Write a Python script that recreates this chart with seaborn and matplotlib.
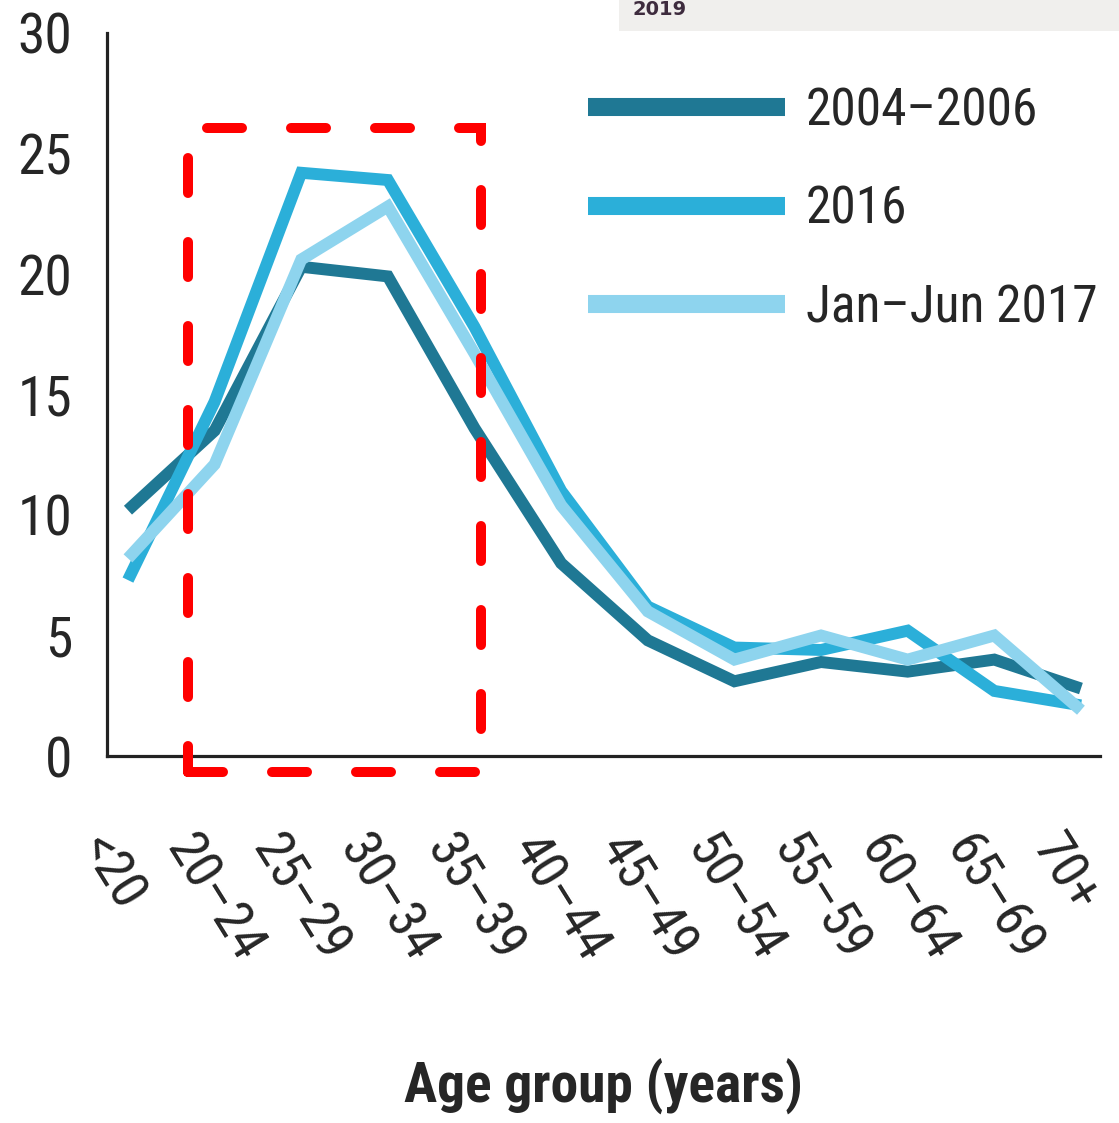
import numpy as np
import pandas as pd
import matplotlib
matplotlib.use("Agg")
import matplotlib.pyplot as plt
from matplotlib import font_manager
from matplotlib import transforms as mtransforms
from matplotlib.lines import Line2D
from matplotlib.patches import Rectangle
import seaborn as sns

# ---------------- data ----------------
age_groups = ["<20", "20–24", "25–29", "30–34", "35–39", "40–44",
              "45–49", "50–54", "55–59", "60–64", "65–69", "70+"]
series_names = ["2004–2006", "2016", "Jan–Jun 2017"]
vals_2004_2006 = [10.2, 13.5, 20.3, 19.9, 13.6, 8.0, 4.8, 3.1, 3.9, 3.5, 4.0, 2.8]
vals_2016 = [7.3, 14.7, 24.2, 23.9, 17.8, 11.0, 6.2, 4.5, 4.4, 5.2, 2.7, 2.1]
vals_2017 = [8.2, 12.1, 20.6, 22.8, 16.7, 10.4, 6.0, 4.0, 5.0, 4.0, 5.0, 1.9]
y_ticks = [0, 5, 10, 15, 20, 25, 30]
x_label = "Age group (years)"
corner_text = "2019"
# highlighted region (category index range, value range)
highlight_x = (0.69, 4.08)
highlight_y = (-0.66, 26.05)

colors = ["#1f7894", "#2bafd9", "#8ed4ee"]

# ---------------- fonts: prefer a narrow / condensed sans ----------------
sns.set_style("white")
ttf = font_manager.fontManager.ttflist


def is_cond(f):
    s = f.stretch
    if isinstance(s, str):
        return s in ("condensed", "semi-condensed", "extra-condensed", "ultra-condensed")
    return s < 500


family = None
stretch = "normal"
pref = ["Liberation Sans Narrow", "Roboto Condensed", "Open Sans Condensed",
        "Noto Sans Condensed", "Arial Narrow", "DejaVu Sans Condensed"]
names = {f.name for f in ttf}
for p in pref:
    if p in names:
        family = p
        break
if family is None:
    for base in ["Liberation Sans", "Roboto", "Noto Sans", "Open Sans", "DejaVu Sans"]:
        if any(f.name == base and is_cond(f) for f in ttf):
            family = base
            stretch = "condensed"
            break
condensed = family is not None
if family is None:
    family = "Liberation Sans"

plt.rcParams["font.family"] = [family, "DejaVu Sans"]
plt.rcParams["font.stretch"] = stretch

fs_tick = 40 if condensed else 34
fs_xtick = 39 if condensed else 33
fs_leg = 37 if condensed else 32
fs_lab = 40 if condensed else 34

df = pd.DataFrame({
    "age": age_groups * 3,
    "value": vals_2004_2006 + vals_2016 + vals_2017,
    "period": sum([[n] * len(age_groups) for n in series_names], []),
})

fig = plt.figure(figsize=(11.19, 11.23), dpi=100)
ax = fig.add_axes([107 / 1119, 1 - 756 / 1123, (1100 - 107) / 1119, (756 - 33) / 1123])

sns.lineplot(data=df, x="age", y="value", hue="period", hue_order=series_names,
             palette=colors, sort=False, linewidth=8.6, ax=ax, legend=False)
for ln in ax.lines:
    ln.set_solid_joinstyle("miter")
    ln.set_solid_capstyle("butt")

ax.set_xlim(-0.242, 11.22)
ax.set_ylim(0, 30)
ax.set_yticks(y_ticks)
ax.set_xticks(range(len(age_groups)))
ax.set_xticklabels(age_groups, rotation=-58, ha="left", va="top",
                   rotation_mode="anchor", fontsize=fs_xtick)
ax.tick_params(axis="y", labelsize=fs_tick, length=14, width=2.5, pad=11, color="#222222")
ax.tick_params(axis="x", length=23, width=2.5, pad=28, color="#222222")
# nudge rotated x labels slightly left, as in the reference
shift = mtransforms.ScaledTranslation(-16 / 100, 0, fig.dpi_scale_trans)
for lab in ax.get_xticklabels():
    lab.set_transform(lab.get_transform() + shift)
for side in ["top", "right"]:
    ax.spines[side].set_visible(False)
for side in ["left", "bottom"]:
    ax.spines[side].set_linewidth(2.3)
    ax.spines[side].set_color("#222222")
ax.set_xlabel(x_label, fontsize=fs_lab, fontweight="bold", va="baseline")
ax.xaxis.set_label_coords(0.5, (756 - 1103) / 723)
ax.set_ylabel("")

# legend
fs_px = fs_leg * 100 / 72
handles = [Line2D([0], [0], color=c, linewidth=13, solid_capstyle="butt") for c in colors]
leg = fig.legend(handles, series_names, loc="upper left",
                 bbox_to_anchor=(588 / 1119, 1 - 86 / 1123), frameon=False,
                 fontsize=fs_leg, handlelength=197 / fs_px,
                 handletextpad=21 / fs_px,
                 labelspacing=(97 - 0.94 * fs_px) / fs_px,
                 borderpad=0, borderaxespad=0)

# highlight rectangle
rect = Rectangle((highlight_x[0], highlight_y[0]), highlight_x[1] - highlight_x[0],
                 highlight_y[1] - highlight_y[0], fill=False, edgecolor="#ff0000",
                 linewidth=7.2, linestyle=(0, (3.5, 4.9)), clip_on=False,
                 capstyle="round", joinstyle="miter", zorder=5)
ax.add_patch(rect)

# corner grey box
fig.patches.append(Rectangle((619 / 1119, 1 - 31 / 1123), 1 - 619 / 1119, 31 / 1123,
                             transform=fig.transFigure, facecolor="#f0efed",
                             edgecolor="none", zorder=0))
fig.text(632 / 1119, 1 - 15 / 1123, corner_text, fontsize=14, fontweight="bold",
         color="#3d2b3d", va="baseline", ha="left", family="DejaVu Sans",
         stretch="normal")

fig.savefig("out.png", dpi=100)
